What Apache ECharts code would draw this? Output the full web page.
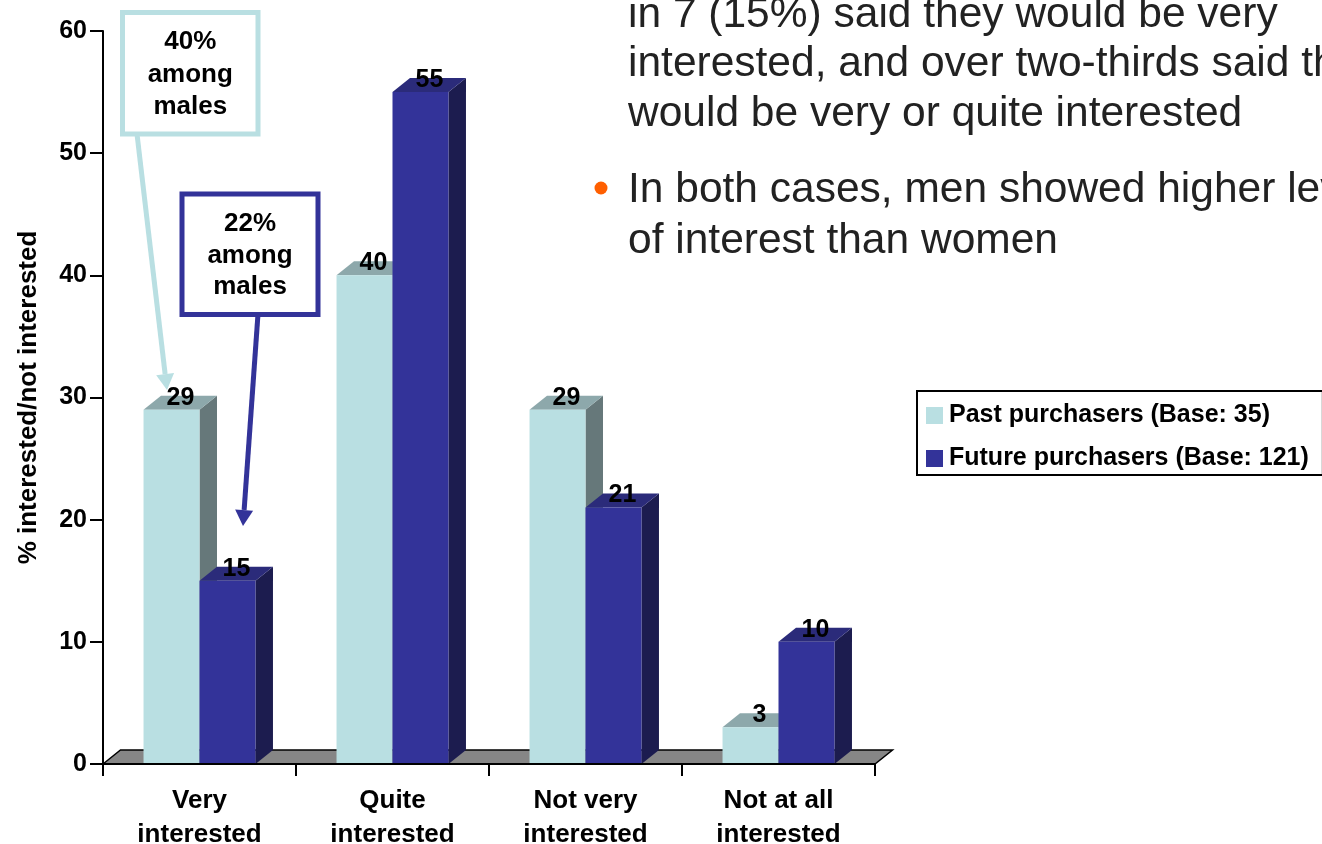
<!DOCTYPE html>
<html><head><meta charset="utf-8">
<style>html,body{margin:0;padding:0;background:#fff;overflow:hidden}#c{width:1322px;height:844px}</style>
<script src="https://cdn.jsdelivr.net/npm/echarts@6/dist/echarts.min.js"></script>
</head><body><div id="c"></div>
<script>
var categories = ['Very\ninterested','Quite\ninterested','Not very\ninterested','Not at all\ninterested'];
var pastName = 'Past purchasers (Base: 35)';
var futureName = 'Future purchasers (Base: 121)';
var pastValues = [29,40,29,3];
var futureValues = [15,55,21,10];
var yTicks = {min:0,max:60,interval:10};
var yTitle = '% interested/not interested';
var bodyLines = ['in 7 (15%) said they would be very','interested, and over two-thirds said they','would be very or quite interested','In both cases, men showed higher levels','of interest than women'];
var font = '"Liberation Sans", Arial, sans-serif';
var depthX = 17.5, depthY = 14, barFrac = 0.29;

function bar3d(side, front, top, right){
  return function(params, api){
    var i = api.value(0), v = api.value(1);
    var p = api.coord([i, v]), b = api.coord([i, 0]);
    var w = api.size([1,0])[0]*barFrac;
    var x0 = side<0 ? p[0]-w : p[0], x1 = x0+w, y = p[1], y0 = b[1];
    return {type:'group',children:[
      {type:'polygon',shape:{points:[[x1,y],[x1+depthX,y-depthY],[x1+depthX,y0-depthY],[x1,y0]]},style:{fill:right}},
      {type:'polygon',shape:{points:[[x0,y],[x0+depthX,y-depthY],[x1+depthX,y-depthY],[x1,y]]},style:{fill:top}},
      {type:'rect',shape:{x:x0,y:y,width:w,height:y0-y-1},style:{fill:front}},
      {type:'text',z2:50,style:{x:(x0+x1)/2+9,y:y-12,text:String(v),fill:'#000',align:'center',verticalAlign:'middle',font:'bold 25px '+font}}
    ]};
  };
}
function floor(params, api){
  var a = api.coord([0,0]), n = categories.length;
  var bw = api.size([1,0])[0], xl = a[0]-bw/2, xr = xl+bw*n, y = a[1];
  return {type:'polygon',shape:{points:[[xl,y],[xl+depthX,y-depthY],[xr+depthX,y-depthY],[xr,y]]},style:{fill:'#868686',stroke:'#000',lineWidth:1.5}};
}
function arrow(x1,y1,x2,y2,color,lw,hl,hw){
  var dx=x2-x1,dy=y2-y1,l=Math.sqrt(dx*dx+dy*dy),ux=dx/l,uy=dy/l;
  var bx=x2-ux*hl,by=y2-uy*hl;
  return [
    {type:'line',shape:{x1:x1,y1:y1,x2:bx,y2:by},style:{stroke:color,lineWidth:lw},z:20},
    {type:'polygon',shape:{points:[[x2,y2],[bx-uy*hw/2,by+ux*hw/2],[bx+uy*hw/2,by-ux*hw/2]]},style:{fill:color},z:20}
  ];
}
function callout(x,y,w,h,color,lw,lines,ly){
  var out=[{type:'rect',shape:{x:x,y:y,width:w,height:h},style:{fill:'#fff',stroke:color,lineWidth:lw},z:21}];
  lines.forEach(function(t,i){
    out.push({type:'text',z:22,style:{x:x+w/2,y:ly[i],text:t,fill:'#000',align:'center',verticalAlign:'middle',font:'bold 26px '+font}});
  });
  return out;
}
var graphics = [];
var lineY=[15,64,114,190,241];
bodyLines.forEach(function(t,i){
  graphics.push({type:'text',z:1,style:{x:628,y:lineY[i],text:t,fill:'#222',align:'left',verticalAlign:'middle',font:'42.5px '+font}});
});
graphics.push({type:'circle',z:1,shape:{cx:601,cy:188,r:6.5},style:{fill:'#FF5F00'}});
graphics = graphics.concat(arrow(137,134,167,390,'#B9DFE2',5,16,18));
graphics = graphics.concat(arrow(258,314,243,526,'#333399',5,16,18));
graphics = graphics.concat(callout(122.5,12.5,135.5,121.5,'#B9DFE2',5,['40%','among','males'],[42,75,107]));
graphics = graphics.concat(callout(182,194,136,120.5,'#333399',5,['22%','among','males'],[224,256,287]));

var chart = echarts.init(document.getElementById('c'),null,{renderer:'canvas'});
chart.setOption({
  animation:false,
  backgroundColor:'#fff',
  textStyle:{fontFamily:font},
  grid:{left:103,top:31,width:772,height:733,containLabel:false,outerBoundsMode:'none'},
  legend:{
    left:917,top:391,orient:'vertical',padding:[12,14,4,9],
    backgroundColor:'#fff',borderColor:'#000',borderWidth:2,borderRadius:0,
    itemWidth:17,itemHeight:17,itemGap:18,icon:'rect',selectedMode:false,
    data:[pastName,futureName],
    textStyle:{color:'#000',fontWeight:'bold',fontSize:25,padding:[2,0,0,1],fontFamily:font}
  },
  xAxis:{type:'category',data:categories,z:10,
    axisLine:{show:true,lineStyle:{color:'#000',width:2}},
    axisTick:{show:true,length:12,alignWithLabel:false,lineStyle:{color:'#000',width:2}},
    axisLabel:{color:'#000',fontWeight:'bold',fontSize:26,lineHeight:34,margin:20,interval:0,fontFamily:font},
    splitLine:{show:false}},
  yAxis:{type:'value',min:yTicks.min,max:yTicks.max,interval:yTicks.interval,z:10,
    name:yTitle,nameLocation:'middle',nameGap:61,nameRotate:90,
    nameTextStyle:{color:'#000',fontWeight:'bold',fontSize:26,fontFamily:font},
    axisLine:{show:true,lineStyle:{color:'#000',width:2}},
    axisTick:{show:true,length:13,lineStyle:{color:'#000',width:2}},
    axisLabel:{color:'#000',fontWeight:'bold',fontSize:25,margin:16,fontFamily:font},
    splitLine:{show:false}},
  graphic:graphics,
  series:[
    {type:'custom',name:'floor',z:1,silent:true,renderItem:floor,data:[[0,0]],encode:{x:0,y:1}},
    {type:'custom',name:pastName,z:2,itemStyle:{color:'#B9DFE2'},renderItem:bar3d(-1,'#B9DFE2','#8DA8AB','#66787A'),
      data:pastValues.map(function(v,i){return [i,v];}),encode:{x:0,y:1}},
    {type:'custom',name:futureName,z:3,itemStyle:{color:'#333399'},renderItem:bar3d(1,'#333399','#2B2B7A','#1C1C4F'),
      data:futureValues.map(function(v,i){return [i,v];}),encode:{x:0,y:1}}
  ]
});
</script></body></html>
